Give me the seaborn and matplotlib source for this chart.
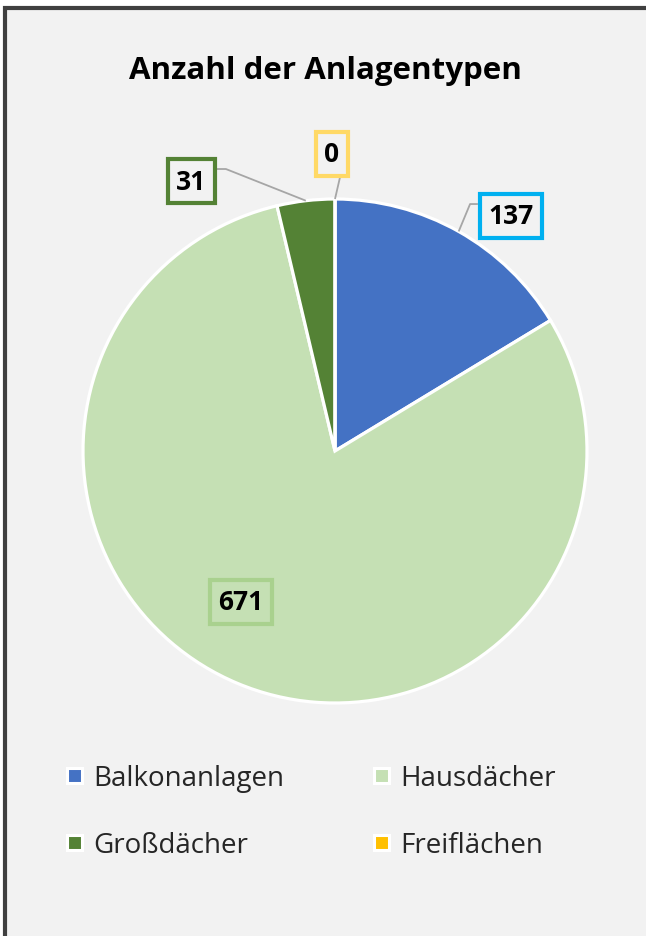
import numpy as np
import matplotlib
matplotlib.use("Agg")
import matplotlib.pyplot as plt
from matplotlib.patches import Rectangle
from matplotlib.lines import Line2D
import seaborn as sns

# ---- data ----
categories = ["Balkonanlagen", "Hausdächer", "Großdächer", "Freiflächen"]
values = [137, 671, 31, 0]
slice_colors = ["#4472C4", "#C5E0B4", "#548235", "#FFC000"]
label_edge_colors = ["#00B0F0", "#A9D18E", "#548235", "#FFD966"]
title = "Anzahl der Anlagentypen"

# ---- layout (label positions in pie data units, radius = 1) ----
label_pos = {
    "Balkonanlagen": (0.698, 0.933),
    "Hausdächer": (-0.373, -0.599),
    "Großdächer": (-0.571, 1.071),
    "Freiflächen": (-0.012, 1.179),
}
# leader line: start point near box and optional elbow point
leader = {
    "Balkonanlagen": [(0.567, 0.980), (0.536, 0.980)],
    "Großdächer": [(-0.472, 1.119), (-0.433, 1.119)],
    "Freiflächen": [(0.020, 1.087)],
}

sns.set_theme(style="white")
plt.rcParams["font.family"] = ["Open Sans", "DejaVu Sans"]

W, H = 646, 937
fig = plt.figure(figsize=(W / 100, H / 100), dpi=100, facecolor="white")
fig.add_artist(Rectangle((5 / W, -0.05), 1.5, (H - 9) / H + 0.05,
                         transform=fig.transFigure, facecolor="#F2F2F2",
                         edgecolor="#404040", linewidth=3, zorder=0))

cx, cy, r = 335, 452, 252
half = r * 1.2
ax = fig.add_axes([(cx - half) / W, (H - cy - half) / H, 2 * half / W, 2 * half / H])
ax.patch.set_alpha(0)

wedges, _ = ax.pie(values, colors=slice_colors, startangle=90, counterclock=False,
                   radius=1, wedgeprops=dict(edgecolor="white", linewidth=2.3))
ax.set_xlim(-1.2, 1.2)
ax.set_ylim(-1.2, 1.2)
ax.axis("off")

for cat, val, w, ec in zip(categories, values, wedges, label_edge_colors):
    mid = np.deg2rad((w.theta1 + w.theta2) / 2)
    tip = (np.cos(mid), np.sin(mid))
    if cat in leader:
        pts = leader[cat] + [tip]
        xs, ys = zip(*pts)
        ax.plot(xs, ys, color="#A6A6A6", linewidth=1.3, zorder=3, solid_capstyle="butt")
    lx, ly = label_pos[cat]
    ax.text(lx, ly, str(val), ha="center", va="center", fontsize=19,
            fontweight="bold", color="black", zorder=5,
            bbox=dict(boxstyle="square,pad=0.32", facecolor="none",
                      edgecolor=ec, linewidth=3))

fig.text(325 / W, 1 - 71 / H, title, ha="center", va="center",
         fontsize=22.5, fontweight="bold", color="black")

order = [0, 2, 1, 3]
handles = [Line2D([0], [0], marker="s", linestyle="", markersize=10.8,
                  markerfacecolor=slice_colors[i], markeredgecolor="white",
                  markeredgewidth=2.2) for i in order]
labels = [categories[i] for i in order]
fig.legend(handles, labels, ncol=2, loc="upper left",
           bbox_to_anchor=(62.5 / W, 1 - 765 / H), frameon=False, fontsize=20,
           handlelength=0.8, handletextpad=0.3, columnspacing=3.1,
           labelspacing=1.4, borderpad=0, borderaxespad=0)

fig.savefig("out.png", dpi=100, facecolor=fig.get_facecolor())
